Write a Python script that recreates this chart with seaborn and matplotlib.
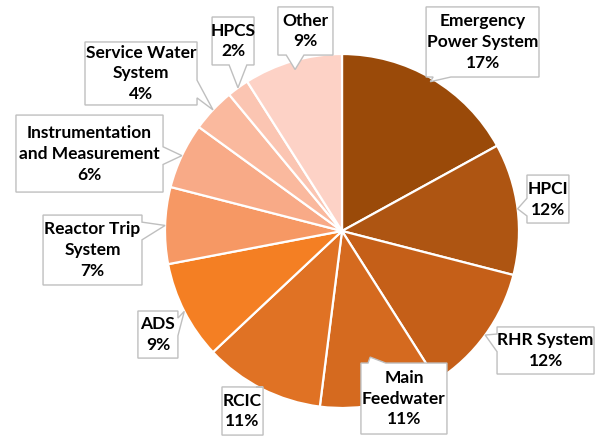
import matplotlib
matplotlib.use("Agg")
import numpy as np
import matplotlib.pyplot as plt
from matplotlib.patches import Polygon
import seaborn as sns

# Share of events by system (percent), clockwise from 12 o'clock
systems = ["Emergency\nPower System", "HPCI", "RHR System", "Main\nFeedwater", "RCIC",
           "ADS", "Reactor Trip\nSystem", "Instrumentation\nand Measurement",
           "Service Water\nSystem", "HPCS", "Other"]
shares = [17, 12, 12, 11, 11, 9, 7, 6, 4, 2, 9]
slice_colors = ["#9A4A09", "#AE5512", "#C55F18", "#D56A1F", "#E07224", "#F47F23",
                "#F69864", "#F8AA87", "#FAB99E", "#FBC5B2", "#FDD2C6"]

# Callout boxes (x0, x1, y0, y1) in units of the pie radius, and how far out
# along each slice's middle the pointer lands
callout_boxes = [
    (0.475, 1.113, 0.870, 1.266),
    (1.045, 1.282, 0.045, 0.316),
    (0.876, 1.424, -0.808, -0.542),
    (0.107, 0.593, -1.147, -0.746),
    (-0.678, -0.446, -1.153, -0.881),
    (-1.153, -0.927, -0.718, -0.452),
    (-1.689, -1.130, -0.305, 0.090),
    (-1.842, -1.011, 0.220, 0.655),
    (-1.452, -0.819, 0.712, 1.068),
    (-0.734, -0.497, 0.938, 1.209),
    (-0.362, -0.051, 0.994, 1.266),
]
tip_radius = [0.98, 1.0, 1.0, 0.73, 0.99, 1.0, 1.0, 1.0, 1.0, 1.0, 0.95]

sns.set_style("white")
plt.rcParams["font.family"] = ["Lato", "DejaVu Sans"]

palette = sns.color_palette(slice_colors)

fig = plt.figure(figsize=(6.0, 4.43), dpi=100)
ax = fig.add_axes([0, 0, 1, 1])

wedges, _ = ax.pie(shares, colors=palette, startangle=90, counterclock=False,
                   radius=1.0, center=(0, 0),
                   wedgeprops=dict(edgecolor="white", linewidth=1.6))


def callout_polygon(box, tip, hw=0.05, pad=0.04):
    x0, x1, y0, y1 = box
    tx, ty = tip
    over = {"left": x0 - tx, "right": tx - x1, "bottom": y0 - ty, "top": ty - y1}
    side = max(over, key=over.get)

    def clamp(v, lo, hi):
        lo2, hi2 = lo + pad + hw, hi - pad - hw
        if lo2 > hi2:
            return (lo + hi) / 2
        return min(max(v, lo2), hi2)

    pts = []
    # walk the rectangle counter-clockwise, inserting the pointer on its side
    pts.append((x0, y0))
    if side == "bottom":
        c = clamp(tx, x0, x1)
        pts += [(c - hw, y0), (tx, ty), (c + hw, y0)]
    pts.append((x1, y0))
    if side == "right":
        c = clamp(ty, y0, y1)
        pts += [(x1, c - hw), (tx, ty), (x1, c + hw)]
    pts.append((x1, y1))
    if side == "top":
        c = clamp(tx, x0, x1)
        pts += [(c + hw, y1), (tx, ty), (c - hw, y1)]
    pts.append((x0, y1))
    if side == "left":
        c = clamp(ty, y0, y1)
        pts += [(x0, c + hw), (tx, ty), (x0, c - hw)]
    return pts


for wedge, name, share, box, r in zip(wedges, systems, shares, callout_boxes, tip_radius):
    mid = np.deg2rad((wedge.theta1 + wedge.theta2) / 2)
    tip = (r * np.cos(mid), r * np.sin(mid))
    poly = Polygon(callout_polygon(box, tip), closed=True, facecolor="white",
                   edgecolor="#BFBFBF", linewidth=1.0, zorder=3, joinstyle="miter")
    ax.add_patch(poly)
    x0, x1, y0, y1 = box
    ax.text((x0 + x1) / 2, (y0 + y1) / 2, f"{name}\n{share}%", ha="center", va="center",
            multialignment="center", fontsize=12.5, fontweight="bold", color="black",
            linespacing=1.38, zorder=4)

ax.set_aspect("auto")
ax.set_xlim(-342 / 177, 258 / 177)
ax.set_ylim((231 - 443) / 177, 231 / 177)
ax.axis("off")

fig.savefig("out.png", dpi=100)
